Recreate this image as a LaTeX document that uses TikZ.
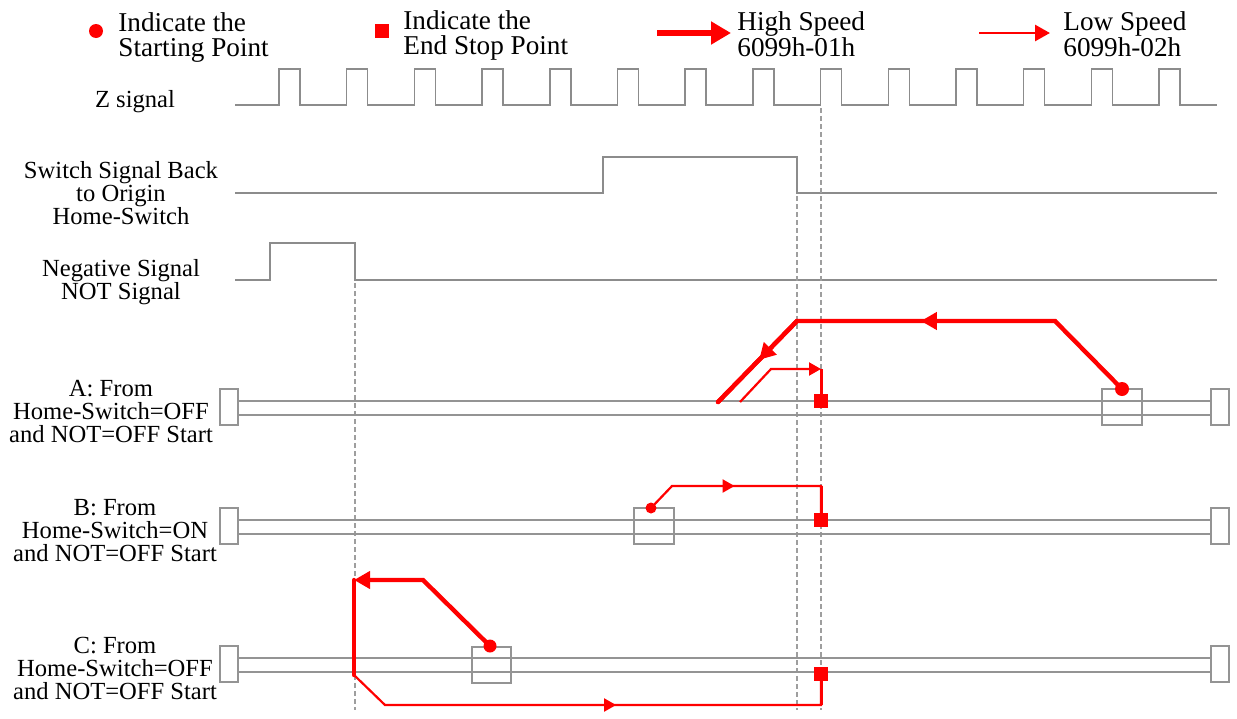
\documentclass[tikz,border=0pt]{standalone}
\usepackage{fontspec}
\setmainfont{Liberation Serif}
\usetikzlibrary{arrows.meta,decorations.markings}
\definecolor{sgray}{gray}{0.55}
\definecolor{rgray}{gray}{0.58}
\definecolor{dgray}{gray}{0.62}
\begin{document}
\begin{tikzpicture}[x=0.5pt,y=-0.5pt,
  sig/.style={draw=sgray,line width=0.75pt},
  rail/.style={draw=rgray,line width=0.75pt},
  endbox/.style={draw=rgray,line width=0.75pt,fill=white},
  startbox/.style={draw=rgray,line width=0.75pt},
  guide/.style={draw=dgray,line width=0.6pt,dash pattern=on 2.5pt off 1.5pt},
  hs/.style={draw=red,line width=2.2pt,line cap=round},
  ls/.style={draw=red,line width=1.1pt},
  lsv/.style={draw=red,line width=1.5pt},
  htip/.tip={Triangle[length=8pt,width=8.5pt]},
  ltip/.tip={Triangle[length=6pt,width=6.5pt]},
  hmark/.style={postaction={decorate},decoration={markings,mark=at position #1 with {\arrow{htip}}}},
  lmark/.style={postaction={decorate},decoration={markings,mark=at position #1 with {\arrow{ltip}}}},
  startdot/.style={circle,fill=red,inner sep=0pt,minimum size=#1},
  stopsq/.style={rectangle,fill=red,inner sep=0pt,minimum size=7pt},
  lbl/.style={font=\fontsize{12.3}{11.5}\selectfont,align=center,inner sep=0pt},
  leg/.style={font=\fontsize{13.6}{12}\selectfont,anchor=base west,inner sep=0pt},
]
\useasboundingbox (0,0) rectangle (1237,718);
\fill[white] (0,0) rectangle (1237,718);

% legend
\node[startdot=7pt] (legdot) at (96,31) {};
\node[leg] (legstartA) at (118,31) {Indicate the};
\node[leg] (legstartB) at (118,56) {Starting Point};
\node[stopsq] (legsq) at (382,31) {};
\node[leg] (legstopA) at (403,29) {Indicate the};
\node[leg] (legstopB) at (403,54) {End Stop Point};
\coordinate (hsA) at (657,33);
\coordinate (hsB) at (731,33);
\draw[draw=red,line width=2.6pt,-{Triangle[length=10pt,width=11pt]}] (hsA) -- (hsB);
\node[leg] (leghsA) at (737,30) {High Speed};
\node[leg] (leghsB) at (737,56) {6099h-01h};
\coordinate (lsA) at (979,33);
\coordinate (lsB) at (1050,33);
\draw[draw=red,line width=1.4pt,-{Triangle[length=7.5pt,width=8pt]}] (lsA) -- (lsB);
\node[leg] (leglsA) at (1063,30) {Low Speed};
\node[leg] (leglsB) at (1063,56) {6099h-02h};

% signals
\node[lbl] (zlab) at (135,102) {Z signal};
\draw[sig] (235,105) \foreach \i in {0,...,13}{ -- ({279+67.7*\i},105) -- ++(0,-36) -- ++(21,0) -- ++(0,36)} -- (1217,105);
\node[lbl] (swlab) at (121,193) {Switch Signal Back\\to Origin\\Home-Switch};
\draw[sig] (235,193) -- (603,193) -- (603,157) -- (797,157) -- (797,193) -- (1217,193);
\node[lbl] (nolab) at (121,282) {Negative Signal\\NOT Signal};
\draw[sig] (235,280) -- (270,280) -- (270,243) -- (355,243) -- (355,280) -- (1217,280);

% guides
\draw[guide] (355,283) -- (355,710);
\draw[guide] (797,196) -- (797,710);
\draw[guide] (821,108) -- (821,710);

% rails
\foreach \ya in {401,520,658} {
  \draw[rail] (238,\ya) -- (1211,\ya);
  \draw[rail] (238,\ya+14) -- (1211,\ya+14);
  \draw[endbox] (220,\ya-12) rectangle (238,\ya+24);
  \draw[endbox] (1211,\ya-12) rectangle (1229,\ya+24);
}
\draw[startbox] (1102,389) rectangle (1142,425);
\draw[startbox] (634,508) rectangle (674,544);
\draw[startbox] (472,647) rectangle (511,683);

\node[lbl] (alab) at (111,411) {A: From\\Home-Switch=OFF\\and NOT=OFF Start};
\node[lbl] (blab) at (115,531) {B: From\\Home-Switch=ON\\and NOT=OFF Start};
\node[lbl] (clab) at (115,668) {C: From\\Home-Switch=OFF\\and NOT=OFF Start};

% A
\node[startdot=7pt] (Adot) at (1122,389) {};
\node[stopsq] (Aend) at (821,401) {};
\coordinate (A1) at (1055,321);
\coordinate (A2) at (797,321);
\coordinate (A3) at (718,402);
\draw[hs] (Adot.center) -- (A1) -- (A2) -- (A3);
\draw[hs,hmark=0.52] (A1) -- (A2);
\draw[hs,hmark=0.48] (A2) -- (A3);
\coordinate (A4) at (740,402);
\coordinate (A5) at (771,369);
\coordinate (A6) at (821,369);
\draw[ls,-ltip] (A4) -- (A5) -- (A6);
\draw[lsv] (A6) -- (Aend);

% B
\node[startdot=5.5pt] (Bdot) at (651,508) {};
\node[stopsq] (Bend) at (821,520) {};
\coordinate (B1) at (672,486);
\coordinate (B2) at (821,486);
\draw[ls] (Bdot.center) -- (B1) -- (B2) -- (Bend.center);
\draw[ls,lmark=0.42] (B1) -- (B2);
\draw[lsv] (B2) -- (Bend);

% C
\node[startdot=6.5pt] (Cdot) at (490,646) {};
\node[stopsq] (Cend) at (821,674) {};
\coordinate (C1) at (423,580);
\coordinate (C2) at (354,580);
\coordinate (C3) at (354,675);
\coordinate (C4) at (385,705);
\coordinate (C5) at (821,705);
\draw[hs,-htip] (Cdot.center) -- (C1) -- (C2);
\draw[hs] (C2) -- (C3);
\draw[ls] (C3) -- (C4) -- (C5) -- (Cend.center);
\draw[ls,lmark=0.53] (C4) -- (C5);
\draw[lsv] (C5) -- (Cend);
\end{tikzpicture}
\end{document}
